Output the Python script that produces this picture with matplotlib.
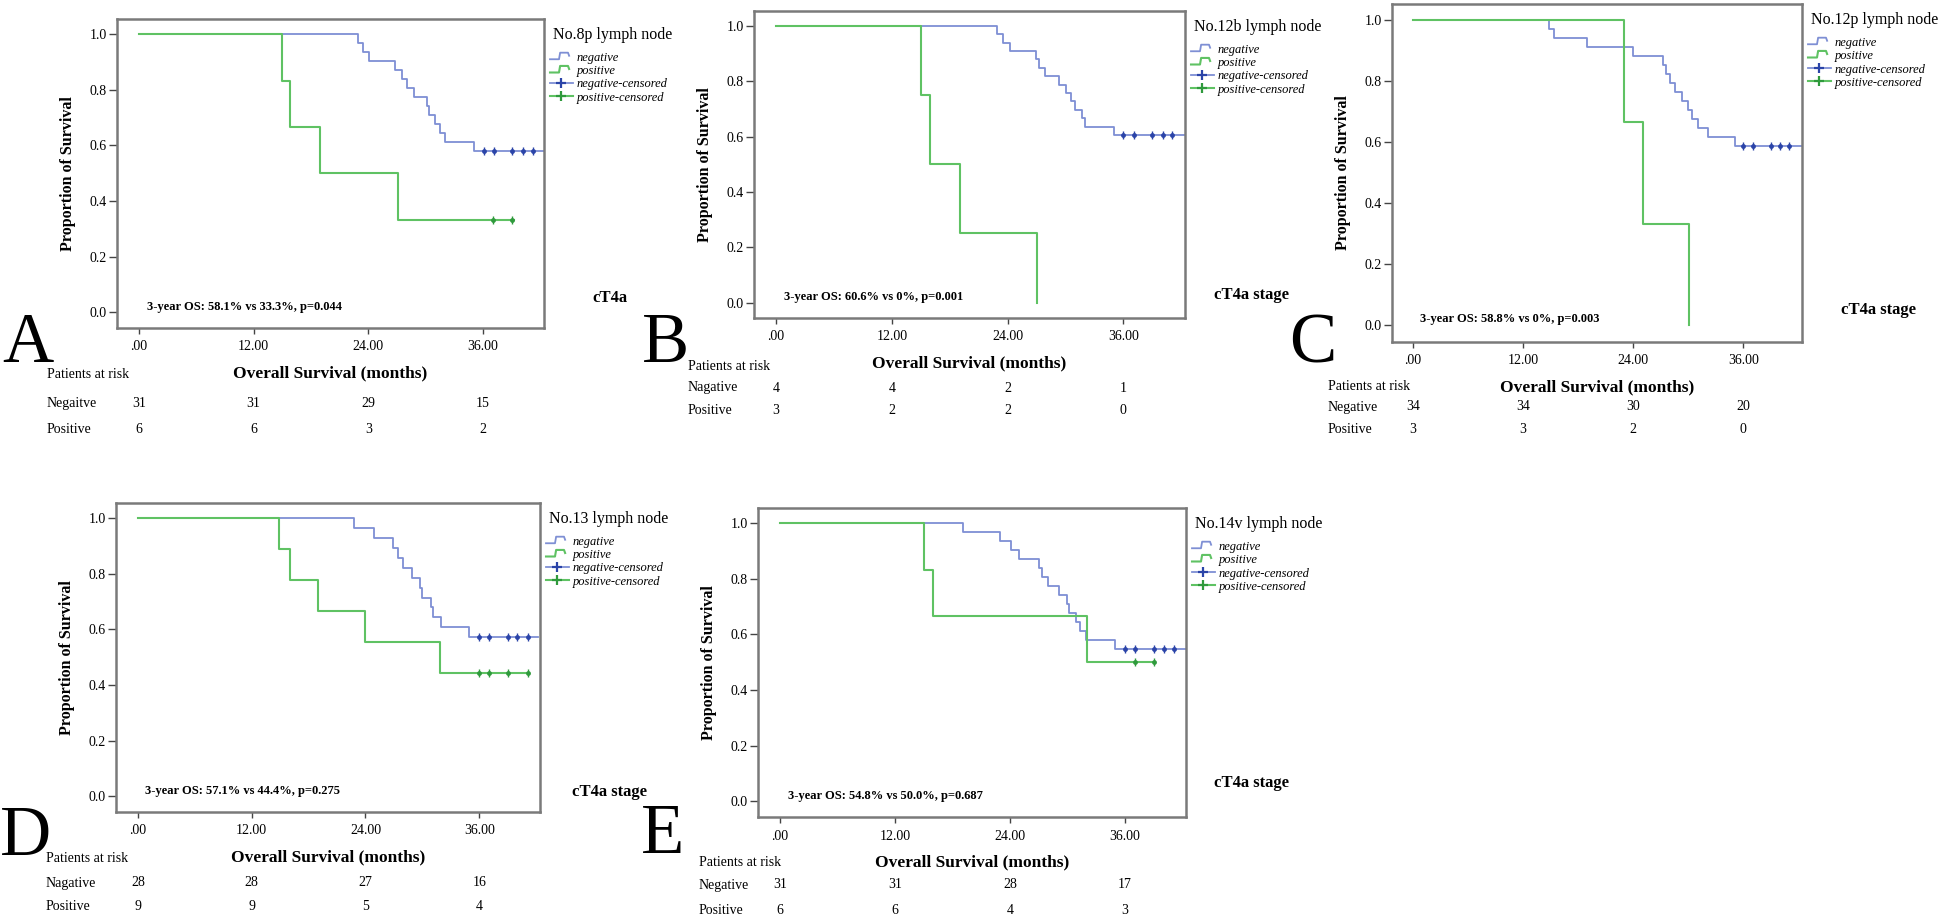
import matplotlib
matplotlib.use("Agg")
import matplotlib.pyplot as plt
import matplotlib.transforms as mtransforms
from matplotlib.lines import Line2D
from matplotlib.legend_handler import HandlerBase

# ---- data (months / proportion surviving) ----
letters = ["A", "B", "C", "D", "E"]
node_titles = ["No.8p lymph node", "No.12b lymph node", "No.12p lymph node",
               "No.13 lymph node", "No.14v lymph node"]
stage_labels = ["cT4a", "cT4a stage", "cT4a stage", "cT4a stage", "cT4a stage"]
os_texts = ["3-year OS: 58.1% vs 33.3%, p=0.044",
            "3-year OS: 60.6% vs 0%, p=0.001",
            "3-year OS: 58.8% vs 0%, p=0.003",
            "3-year OS: 57.1% vs 44.4%, p=0.275",
            "3-year OS: 54.8% vs 50.0%, p=0.687"]
neg_labels = ["Negaitve", "Nagative", "Negative", "Nagative", "Negative"]
risk_times = [0, 12, 24, 36]
risk_neg = [[31, 31, 29, 15], [4, 4, 2, 1], [34, 34, 30, 20], [28, 28, 27, 16], [31, 31, 28, 17]]
risk_pos = [[6, 6, 3, 2], [3, 2, 2, 0], [3, 3, 2, 0], [9, 9, 5, 4], [6, 6, 4, 3]]

a_neg_t = [0, 22.9, 23.4, 24.1, 26.8, 27.5, 28.1, 28.8, 30.1, 30.4, 31.0, 31.5, 32.0, 35.1, 42.4]
a_neg_s = [1.0, 0.968, 0.935, 0.903, 0.871, 0.839, 0.806, 0.774, 0.742, 0.710, 0.677, 0.645, 0.613, 0.581, 0.581]
a_neg_c = [36.1, 37.2, 39.1, 40.2, 41.2]
a_pos_t = [0, 15.0, 15.8, 19.0, 27.1, 39.3]
a_pos_s = [1.0, 0.833, 0.667, 0.5, 0.333, 0.333]
a_pos_c = [37.1, 39.1]

b_neg_t = [0, 22.9, 23.5, 24.2, 26.9, 27.3, 27.9, 29.3, 30.1, 30.6, 31.0, 31.7, 32.0, 35.0, 42.4]
b_neg_s = [1.0, 0.970, 0.939, 0.909, 0.879, 0.848, 0.818, 0.788, 0.758, 0.727, 0.697, 0.667, 0.636, 0.606, 0.606]
b_neg_c = [36.0, 37.1, 39.0, 40.1, 41.0]
b_pos_t = [0, 15.0, 16.0, 19.1, 27.1]
b_pos_s = [1.0, 0.75, 0.5, 0.25, 0.0]
b_pos_c = []

c_neg_t = [0, 14.8, 15.4, 19.0, 24.0, 27.3, 27.6, 28.0, 28.6, 29.3, 30.0, 30.4, 31.1, 32.1, 35.1, 42.4]
c_neg_s = [1.0, 0.971, 0.941, 0.912, 0.882, 0.853, 0.824, 0.794, 0.765, 0.735, 0.706, 0.676, 0.647, 0.618, 0.588, 0.588]
c_neg_c = [36.0, 37.1, 39.0, 40.0, 41.0]
c_pos_t = [0, 23.0, 25.1, 30.1]
c_pos_s = [1.0, 0.667, 0.333, 0.0]
c_pos_c = []

d_neg_t = [0, 22.8, 24.9, 26.9, 27.4, 28.0, 28.9, 29.8, 30.0, 30.9, 31.1, 32.0, 34.9, 42.2]
d_neg_s = [1.0, 0.964, 0.929, 0.893, 0.857, 0.821, 0.786, 0.750, 0.714, 0.679, 0.643, 0.607, 0.571, 0.571]
d_neg_c = [36.0, 37.0, 39.0, 40.0, 41.1]
d_pos_t = [0, 14.9, 16.0, 19.0, 24.0, 31.9, 41.1]
d_pos_s = [1.0, 0.889, 0.778, 0.667, 0.556, 0.444, 0.444]
d_pos_c = [36.0, 37.0, 39.0, 41.1]

e_neg_t = [0, 19.1, 23.0, 24.1, 25.0, 27.0, 27.4, 28.0, 29.1, 30.0, 30.2, 30.9, 31.3, 32.0, 35.0, 42.4]
e_neg_s = [1.0, 0.968, 0.935, 0.903, 0.871, 0.839, 0.806, 0.774, 0.742, 0.710, 0.677, 0.645, 0.613, 0.581, 0.548, 0.548]
e_neg_c = [36.0, 37.1, 39.1, 40.1, 41.1]
e_pos_t = [0, 15.0, 16.0, 32.1, 39.1]
e_pos_s = [1.0, 0.833, 0.667, 0.5, 0.5]
e_pos_c = [37.1, 39.1]

neg_times = [a_neg_t, b_neg_t, c_neg_t, d_neg_t, e_neg_t]
neg_surv = [a_neg_s, b_neg_s, c_neg_s, d_neg_s, e_neg_s]
neg_cens = [a_neg_c, b_neg_c, c_neg_c, d_neg_c, e_neg_c]
pos_times = [a_pos_t, b_pos_t, c_pos_t, d_pos_t, e_pos_t]
pos_surv = [a_pos_s, b_pos_s, c_pos_s, d_pos_s, e_pos_s]
pos_cens = [a_pos_c, b_pos_c, c_pos_c, d_pos_c, e_pos_c]

# ---- layout, in pixels of the 1946x918 picture (left, top, right, bottom) ----
W, H = 1946, 918
boxes = [(117, 19, 544, 328), (754, 11, 1185, 318), (1392, 4, 1802, 342),
         (116, 503, 540, 812), (758, 508, 1186, 817)]
stage_xy = [(592, 298), (1214, 295), (1841, 310), (572, 792), (1214, 783)]
letter_xy = [(2, 362), (642, 362), (1289, 363), (0, 855), (641, 853)]
risk_x = [47, 688, 1328, 46, 699]
risk_y = [(375, 403, 430), (367, 388, 410), (387, 407, 430), (858, 883, 907), (863, 885, 910)]

BLUE, BLUE_C = "#7e8fd4", "#2b44a8"
GREEN, GREEN_C = "#5fc263", "#2f9a3c"

plt.rcParams["font.family"] = "Liberation Serif"


def fx(px):
    return px / W


def fy(py):
    return 1 - py / H


class StepHandle(HandlerBase):
    # SPSS style little step icon in the legend
    def create_artists(self, legend, orig_handle, xdescent, ydescent, width, height, fontsize, trans):
        x0, y0 = -xdescent, -ydescent
        xs = [x0, x0 + 0.4 * width, x0 + 0.45 * width, x0 + 0.8 * width, x0 + 0.85 * width]
        ys = [y0 + 0.2 * height, y0 + 0.2 * height, y0 + 0.95 * height, y0 + 0.95 * height, y0 + 0.6 * height]
        ln = Line2D(xs, ys, color=orig_handle.get_color(), lw=orig_handle.get_linewidth(), transform=trans)
        return [ln]


def censor_marks(ax, xs, level, col):
    ys = [level] * len(xs)
    ax.plot(xs, ys, ls="none", marker="|", ms=6, mew=1.0, color=col)
    ax.plot(xs, ys, ls="none", marker="o", ms=3.5, mew=0, color=col)


fig = plt.figure(figsize=(W / 100, H / 100), dpi=100)

for i in range(5):
    l, t, r, b = boxes[i]
    ax = fig.add_axes([fx(l), fy(b), (r - l) / W, (b - t) / H])
    ax.step(neg_times[i], neg_surv[i], where="post", color=BLUE, lw=1.3)
    ax.step(pos_times[i], pos_surv[i], where="post", color=GREEN, lw=1.5)
    censor_marks(ax, neg_cens[i], neg_surv[i][-1], BLUE_C)
    censor_marks(ax, pos_cens[i], pos_surv[i][-1], GREEN_C)

    ax.set_xlim(-2.3, 42.4)
    ax.set_ylim(-0.056, 1.054)
    ax.set_xticks([0, 12, 24, 36])
    ax.set_xticklabels([".00", "12.00", "24.00", "36.00"], fontsize=10)
    ax.set_yticks([0, 0.2, 0.4, 0.6, 0.8, 1.0])
    ax.set_yticklabels(["0.0", "0.2", "0.4", "0.6", "0.8", "1.0"], fontsize=10)
    ax.tick_params(axis="x", length=4.5, width=1, pad=4.5, color="#444444")
    ax.tick_params(axis="y", length=6, width=1, pad=1.5, color="#444444")
    for sp in ax.spines.values():
        sp.set_color("#7a7a7a")
        sp.set_linewidth(1.8)

    ax.set_xlabel("Overall Survival (months)", fontsize=12.5, fontweight="bold")
    ax.xaxis.set_label_coords(0.5, -37 / (b - t))
    ax.set_ylabel("Proportion of Survival", fontsize=11.5, fontweight="bold")
    ax.yaxis.set_label_coords(-41 / (r - l), 0.5)

    ax.text(0.8, 0.02, os_texts[i], fontsize=9, fontweight="bold", va="center")

    # legend
    h_neg = Line2D([], [], color=BLUE, lw=1.3)
    h_pos = Line2D([], [], color=GREEN, lw=1.5)
    h_negc = Line2D([], [], color=BLUE, lw=1.3, marker="+", ms=7, mew=1.6, mec=BLUE_C)
    h_posc = Line2D([], [], color=GREEN, lw=1.5, marker="+", ms=7, mew=1.6, mec=GREEN_C)
    fig.text(fx(r + 9), fy(t + 16), node_titles[i], fontsize=11.5, va="center")
    ax.legend([h_neg, h_pos, h_negc, h_posc],
              ["negative", "positive", "negative-censored", "positive-censored"],
              loc="upper left", bbox_to_anchor=(fx(r + 6), fy(t + 33)),
              bbox_transform=fig.transFigure, frameon=False,
              prop={"style": "italic", "size": 9},
              handler_map={h_neg: StepHandle(), h_pos: StepHandle()},
              handlelength=1.8, handletextpad=0.3, labelspacing=0.1,
              borderpad=0, borderaxespad=0)

    sx, sy = stage_xy[i]
    fig.text(fx(sx), fy(sy), stage_labels[i], fontsize=12, fontweight="bold", va="center")
    lx, ly = letter_xy[i]
    fig.text(fx(lx), fy(ly), letters[i], fontsize=51, va="baseline")

    # patients at risk table
    rx = risk_x[i]
    y_head, y_neg, y_pos = risk_y[i]
    fig.text(fx(rx), fy(y_head), "Patients at risk", fontsize=10, va="center")
    fig.text(fx(rx), fy(y_neg), neg_labels[i], fontsize=10, va="center")
    fig.text(fx(rx), fy(y_pos), "Positive", fontsize=10, va="center")
    blend = mtransforms.blended_transform_factory(ax.transData, fig.transFigure)
    for tm, n in zip(risk_times, risk_neg[i]):
        ax.text(tm, fy(y_neg), str(n), transform=blend, ha="center", va="center", fontsize=10)
    for tm, n in zip(risk_times, risk_pos[i]):
        ax.text(tm, fy(y_pos), str(n), transform=blend, ha="center", va="center", fontsize=10)

fig.savefig("out.png", dpi=100)
